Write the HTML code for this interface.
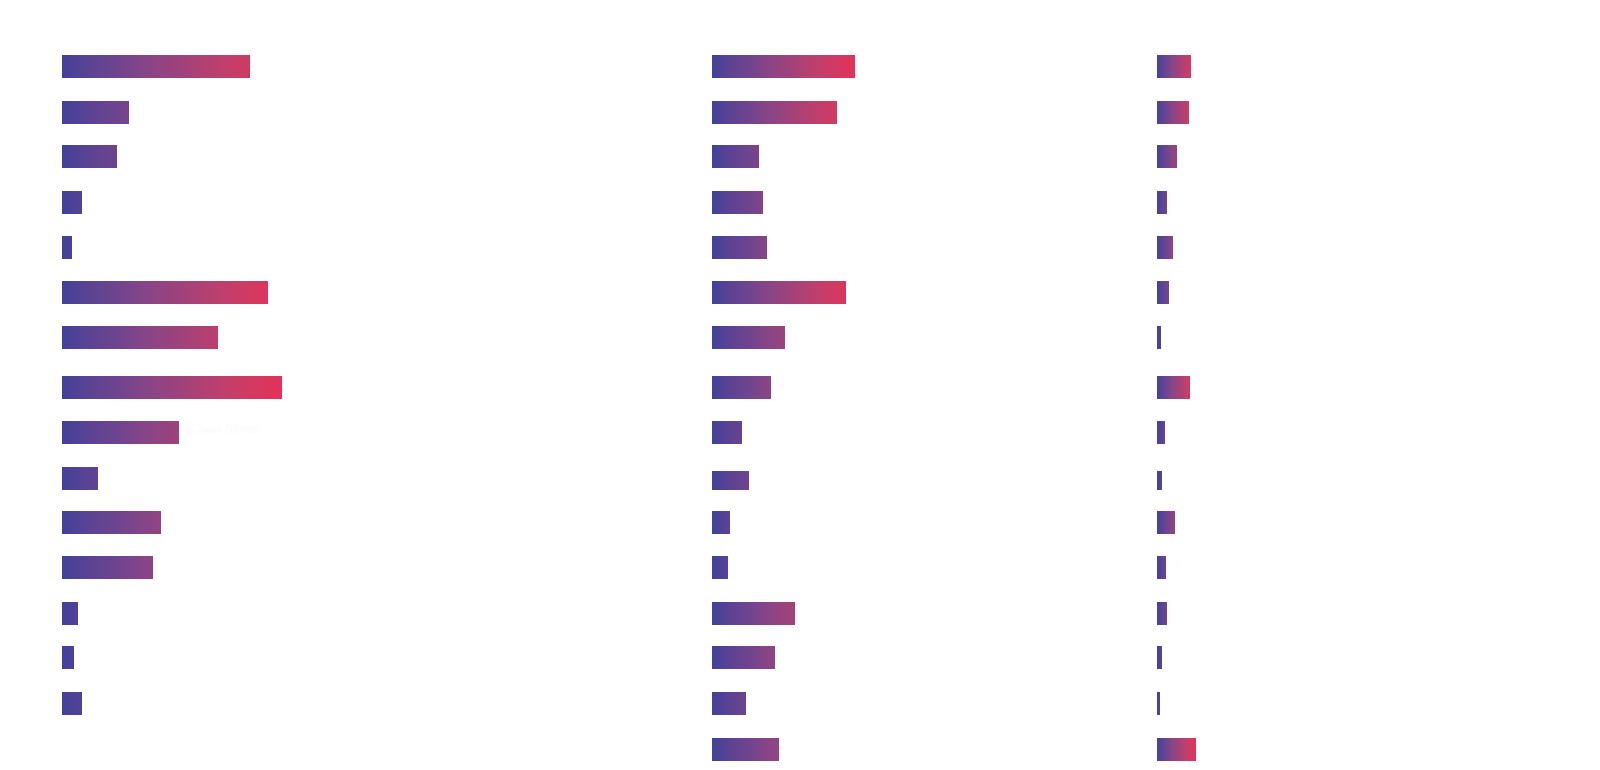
<!DOCTYPE html>
<html lang="en">
<head>
<meta charset="utf-8">
<title>Bar charts</title>
<style>
html,body{margin:0;padding:0;background:#fff;}
body{width:1600px;height:770px;position:relative;overflow:hidden;font-family:"Liberation Sans",sans-serif;}
.b{position:absolute;height:23px;background-image:linear-gradient(to right,rgb(63,66,152) 0%,rgb(70,65,153) 2%,rgb(91,67,148) 12.7%,rgb(110,68,143) 25%,rgb(134,69,136) 37.7%,rgb(153,67,126) 50%,rgb(173,65,116) 62.7%,rgb(193,63,107) 75%,rgb(211,57,97) 87.7%,rgb(227,50,90) 99.5%);background-repeat:no-repeat;}
.c0 .b{background-size:220px 100%;}
.c1 .b{background-size:143px 100%;}
.c2 .b{background-size:39px 100%;}
.l{position:absolute;font-size:12px;line-height:14px;color:#fbfbfb;white-space:nowrap;}
</style>
</head>
<body>
<div class="c0">
<div class="b" style="left:62px;top:55px;width:188px;"></div>
<div class="b" style="left:62px;top:101px;width:67px;"></div>
<div class="b" style="left:62px;top:145px;width:55px;"></div>
<div class="b" style="left:62px;top:191px;width:20px;"></div>
<div class="b" style="left:62px;top:236px;width:10px;"></div>
<div class="b" style="left:62px;top:281px;width:206px;"></div>
<div class="b" style="left:62px;top:326px;width:156px;"></div>
<div class="b" style="left:62px;top:376px;width:220px;"></div>
<div class="b" style="left:62px;top:421px;width:117px;"></div>
<div class="l" style="left:190px;top:422px;color:#fbfbfb;">Chain Stores</div>
<div class="b" style="left:62px;top:467px;width:36px;"></div>
<div class="b" style="left:62px;top:511px;width:99px;"></div>
<div class="b" style="left:62px;top:556px;width:91px;"></div>
<div class="b" style="left:62px;top:602px;width:16px;"></div>
<div class="b" style="left:62px;top:646px;width:12px;"></div>
<div class="b" style="left:62px;top:692px;width:20px;"></div>
</div>
<div class="c1">
<div class="b" style="left:712px;top:55px;width:143px;"></div>
<div class="b" style="left:712px;top:101px;width:125px;"></div>
<div class="b" style="left:712px;top:145px;width:47px;"></div>
<div class="b" style="left:712px;top:191px;width:51px;"></div>
<div class="b" style="left:712px;top:236px;width:55px;"></div>
<div class="b" style="left:712px;top:281px;width:134px;"></div>
<div class="b" style="left:712px;top:326px;width:73px;"></div>
<div class="b" style="left:712px;top:376px;width:59px;"></div>
<div class="b" style="left:712px;top:421px;width:30px;"></div>
<div class="b" style="left:712px;top:471px;width:37px;height:19px;"></div>
<div class="b" style="left:712px;top:511px;width:18px;"></div>
<div class="b" style="left:712px;top:556px;width:16px;"></div>
<div class="b" style="left:712px;top:602px;width:83px;"></div>
<div class="b" style="left:712px;top:646px;width:63px;"></div>
<div class="b" style="left:712px;top:692px;width:34px;"></div>
<div class="b" style="left:712px;top:738px;width:67px;"></div>
</div>
<div class="c2">
<div class="b" style="left:1157px;top:55px;width:34px;"></div>
<div class="b" style="left:1157px;top:101px;width:32px;"></div>
<div class="b" style="left:1157px;top:145px;width:20px;"></div>
<div class="b" style="left:1157px;top:191px;width:10px;"></div>
<div class="b" style="left:1157px;top:236px;width:16px;"></div>
<div class="b" style="left:1157px;top:281px;width:12px;"></div>
<div class="b" style="left:1157px;top:326px;width:4px;"></div>
<div class="b" style="left:1157px;top:376px;width:33px;"></div>
<div class="b" style="left:1157px;top:421px;width:8px;"></div>
<div class="b" style="left:1157px;top:471px;width:5px;height:19px;"></div>
<div class="b" style="left:1157px;top:511px;width:18px;"></div>
<div class="b" style="left:1157px;top:556px;width:9px;"></div>
<div class="l" style="left:1174px;top:558px;color:#fcfcfc;">Y</div>
<div class="b" style="left:1157px;top:602px;width:10px;"></div>
<div class="b" style="left:1157px;top:646px;width:5px;"></div>
<div class="b" style="left:1157px;top:692px;width:3px;"></div>
<div class="b" style="left:1157px;top:738px;width:39px;"></div>
</div>
</body>
</html>
